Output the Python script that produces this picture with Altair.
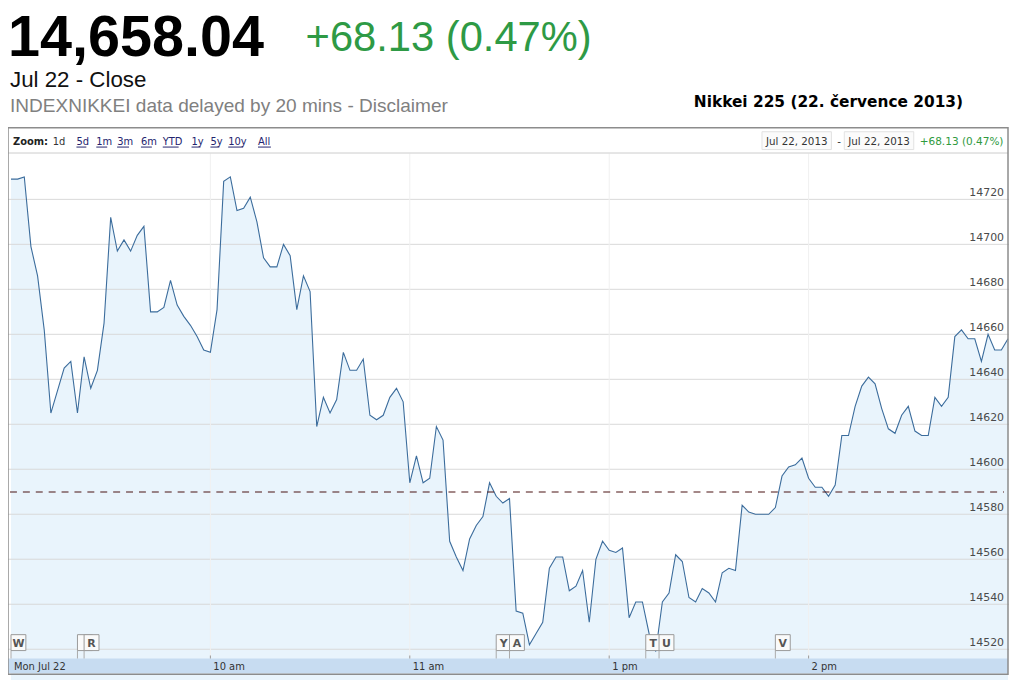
import altair as alt
import pandas as pd

# ---------------- data ----------------
price_now = "14,658.04"
change_txt = "+68.13 (0.47%)"
close_txt = "Jul 22 - Close"
note_txt = "INDEXNIKKEI data delayed by 20 mins - Disclaimer"
title_txt = "Nikkei 225 (22. července 2013)"
date_from = "Jul 22, 2013"
date_to = "Jul 22, 2013"
prev_close = 14589.91

# one sample every 2 trading minutes from 9:00 (lunch break 11:30-12:30 removed)
values = [
    14729, 14729, 14730, 14699, 14686, 14662, 14625, 14635, 14645, 14648,
    14625, 14650, 14636, 14644, 14665, 14712, 14697, 14702, 14697, 14704,
    14708, 14670, 14670, 14672, 14684, 14673, 14668, 14664, 14659, 14653,
    14652, 14671, 14728, 14730, 14715, 14716, 14721, 14710, 14694, 14690,
    14690, 14700, 14695, 14671, 14686, 14679, 14619, 14632, 14625, 14631,
    14652, 14644, 14644, 14649, 14624, 14622, 14624, 14632, 14636, 14630,
    14594, 14606, 14594, 14596, 14619, 14613, 14568, 14561, 14555, 14569,
    14575, 14579, 14594, 14588, 14585, 14587, 14537, 14536, 14522, 14527,
    14532, 14556, 14561, 14561, 14546, 14548, 14555, 14532, 14560, 14568,
    14564, 14563, 14565, 14534, 14541, 14541, 14527, 14519, 14541, 14545,
    14562, 14559, 14543, 14541, 14547, 14545, 14541, 14554, 14556, 14555,
    14584, 14581, 14580, 14580, 14580, 14583, 14597, 14601, 14602, 14605,
    14596, 14592, 14592, 14588, 14593, 14615, 14615, 14628, 14637, 14641,
    14638, 14627, 14618, 14616, 14624, 14628, 14617, 14615, 14615, 14632,
    14628, 14632, 14659, 14662, 14658, 14658, 14648, 14660, 14653, 14653,
    14658.04,
]
minutes = [2 * i for i in range(len(values))]

y_ticks = [14520, 14540, 14560, 14580, 14600, 14620, 14640, 14660, 14680, 14700, 14720]
x_tick_labels = ["Mon Jul 22", "10 am", "11 am", "1 pm", "2 pm"]
x_tick_minutes = [0, 60, 120, 180, 240]

flag_letters = ["W", "", "R", "Y", "A", "T", "U", "V"]
flag_minutes = [0, 20, 22, 146, 150, 191, 195, 230]

zoom_items = ["1d", "5d", "1m", "3m", "6m", "YTD", "1y", "5y", "10y", "All"]

# ---------------- layout ----------------
W, H = 1009, 672
xs = alt.Scale(domain=[-0.9, 300.3], nice=False, zero=False)
ys = alt.Scale(domain=[14507.5, 14803.9], nice=False, zero=False)

df = pd.DataFrame({"t": minutes, "v": values})
grid_df = pd.DataFrame({"v": y_ticks})
xt_df = pd.DataFrame({"t": x_tick_minutes, "lab": x_tick_labels})
flag_df = pd.DataFrame({"t": flag_minutes, "lab": flag_letters})
one = pd.DataFrame({"a": [0]})

X = alt.X("t:Q", scale=xs, axis=None)
Y = alt.Y("v:Q", scale=ys, axis=None)

SANS = "Liberation Sans, Arial, sans-serif"
VERD = "DejaVu Sans, Verdana, sans-serif"


def txt(s, x, y, size, color="#000", weight="normal", font=SANS, align="left"):
    return alt.Chart(one).mark_text(
        text=s, fontSize=size, font=font, fontWeight=weight, color=color,
        align=align, baseline="alphabetic"
    ).encode(x=alt.value(x), y=alt.value(y))


def box(x, x2, y, y2, fill="white", stroke=None, sw=1, fo=1):
    kw = dict(fill=fill, fillOpacity=fo)
    if stroke:
        kw.update(stroke=stroke, strokeWidth=sw)
    return alt.Chart(one).mark_rect(**kw).encode(
        x=alt.value(x), x2=alt.value(x2), y=alt.value(y), y2=alt.value(y2))


def hline(x, x2, y, color, sw=1):
    return alt.Chart(one).mark_rule(color=color, strokeWidth=sw).encode(
        x=alt.value(x), x2=alt.value(x2), y=alt.value(y))


layers = []

# plot region
grid = alt.Chart(grid_df).mark_rule(color="#d9d9d9", strokeWidth=1).encode(y=Y)
vgrid = alt.Chart(xt_df[xt_df.t > 0]).mark_rule(color="#f0f0f0").encode(
    x=X, y=alt.value(144), y2=alt.value(653))
area = alt.Chart(df).mark_area(color="#e6f3fc", opacity=0.88).encode(x=X, y=Y, y2=alt.value(653))
line = alt.Chart(df).mark_line(color="#3b6c9c", strokeWidth=1.1).encode(x=X, y=Y)
dash = alt.Chart(pd.DataFrame({"v": [prev_close]})).mark_rule(
    color="#4a1212", strokeDash=[7, 6], strokeWidth=1.2).encode(
    y=Y, x=alt.value(2), x2=alt.value(1004))
ylabels = alt.Chart(grid_df).mark_text(
    align="right", baseline="bottom", dy=-1, fontSize=11, font=VERD, color="#4a4a4a"
).encode(y=Y, x=alt.value(1004), text=alt.Text("v:Q", format="d"))

layers += [area, grid, vgrid, line, dash, ylabels]

# toolbar
layers.append(box(0, 1008, 118, 143.5, fill="white"))
layers.append(hline(0, 1008, 143.5, "#cccccc"))
layers.append(txt("Zoom:", 5, 135, 10, color="#222", weight="bold", font=VERD))
zoom_x = [45, 69, 89, 110, 134, 156, 185, 204, 222, 252]
zoom_w = [10, 10, 11, 12, 11, 16, 9, 9, 15, 13]
for i, (s, zx, zw) in enumerate(zip(zoom_items, zoom_x, zoom_w)):
    col = "#333" if i == 0 else "#24246e"
    layers.append(txt(s, zx, 135, 10, color=col, font=VERD))
    if i > 0:
        layers.append(hline(zx, zx + zw, 137.5, col))
layers.append(box(760, 830, 122, 140, fill="#fbfbfb", stroke="#e2e2e2"))
layers.append(box(843, 913, 122, 140, fill="#fbfbfb", stroke="#e2e2e2"))
layers.append(txt(date_from, 764, 135, 10.4, color="#333", font=VERD))
layers.append(txt("-", 836, 135, 10.4, color="#333", font=VERD))
layers.append(txt(date_to, 847, 135, 10.4, color="#333", font=VERD))
layers.append(txt(change_txt, 919, 135, 10.6, color="#2f9a3e", font=VERD))

# bottom band
layers.append(box(0, 1008, 653, 668, fill="#c7dcf1"))
ticks = alt.Chart(xt_df[xt_df.t > 0]).mark_rule(color="#999").encode(
    x=X, y=alt.value(650), y2=alt.value(653))
xlabels = alt.Chart(xt_df).mark_text(
    align="left", dx=3, fontSize=10, font=VERD, color="#333", baseline="alphabetic"
).encode(x=X, y=alt.value(665), text="lab:N")
layers += [ticks, xlabels]

# flags
stems = alt.Chart(flag_df).mark_rule(color="#aaaaaa").encode(
    x=X, y=alt.value(645), y2=alt.value(653))
flag_boxes = alt.Chart(flag_df).mark_point(
    shape="M-1,-1.07H1V1.07H-1Z", size=225, filled=True, fill="#fafafa",
    stroke="#9a9a9a", strokeWidth=1, opacity=1, xOffset=7.5
).encode(x=X, y=alt.value(637))
flag_text = alt.Chart(flag_df).mark_text(
    fontSize=11, font=VERD, fontWeight="bold", color="#555", dx=7.5, baseline="middle"
).encode(x=X, y=alt.value(638), text="lab:N")
layers += [stems, flag_boxes, flag_text]

# frame
layers.append(box(0, 1008, 118, 669, fill="white", stroke="#8c8c8c", sw=1.5, fo=0))

# header
layers.append(txt(price_now, 0, 46, 58, weight="bold"))
layers.append(txt(change_txt, 300, 41, 42, color="#2e9a45"))
layers.append(txt(close_txt, 2, 77, 22.5, color="#111"))
layers.append(txt(note_txt, 2, 102, 19.2, color="#808080"))
layers.append(txt(title_txt, 827, 97, 15.5, weight="bold", font=VERD, align="center"))

chart = alt.layer(*layers).properties(
    width=W, height=H, padding=0,
    autosize=alt.AutoSizeParams(type="none"), background="white"
).configure_view(stroke=None)

chart.save("out.html", embed_options={"renderer": "svg", "actions": False})
